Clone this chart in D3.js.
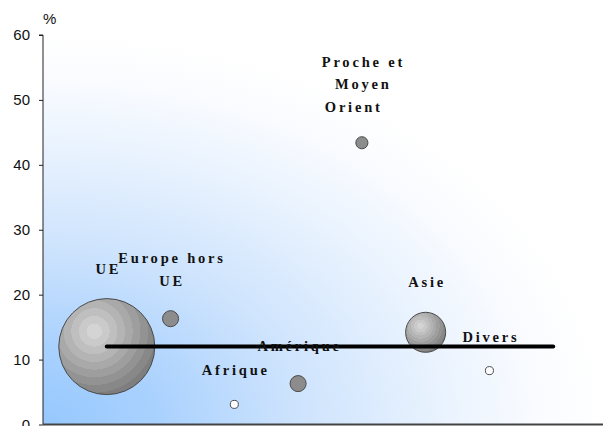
<!DOCTYPE html>
<html><head><meta charset="utf-8">
<script src="https://cdnjs.cloudflare.com/ajax/libs/d3/7.8.5/d3.min.js"></script>
<style>
body{margin:0;background:#fff;}
svg{display:block;}
.lbl{font-family:'Liberation Serif','DejaVu Serif',serif;font-weight:700;font-size:14.5px;letter-spacing:2.8px;fill:#111;white-space:pre;}
</style></head>
<body>
<svg id="chart" width="603" height="426"></svg>
<script>
// Data
const categories = ["UE", "Europe hors UE", "Afrique", "Amérique", "Proche et Moyen Orient", "Asie", "Divers"];
const labelLines = [["UE"], ["Europe hors", "UE"], ["Afrique"], ["Amérique"], ["Proche et", "Moyen", "Orient\u00a0\u00a0\u00a0"], ["Asie"], ["Divers"]];
const xIndex = [1, 2, 3, 4, 5, 6, 7];
const yValues = [12.0, 16.3, 3.1, 6.3, 43.4, 14.2, 8.3];
const bubbleSizes = [100, 2.8, 0.7, 2.8, 1.6, 17.4, 0.7];
const averageLine = {x0: 1, x1: 8, y: 12};
const yTicks = [0, 10, 20, 30, 40, 50, 60];

const svg = d3.select("#chart");
const L = 43, R = 603, T = 35, B = 424.5;
const x = d3.scaleLinear().domain([0, 8]).range([L, 553.2]);
const y = d3.scaleLinear().domain([0, 60]).range([B, T]);
const r = d3.scaleSqrt().domain([0, 100]).range([0, 48]);

const defs = svg.append("defs");
const bg = defs.append("radialGradient").attr("id", "bg")
  .attr("cx", "0").attr("cy", "1").attr("fx", "0").attr("fy", "1").attr("r", "1.0");
[[0, "#96c8fe"], [0.2, "#a9d1fe"], [0.45, "#cde3fd"], [0.7, "#e8f2fe"], [0.88, "#f9fbff"], [1, "#ffffff"]]
  .forEach(s => bg.append("stop").attr("offset", s[0]).attr("stop-color", s[1]));

const rg = defs.append("radialGradient").attr("id", "ball")
  .attr("cx", "0.37").attr("cy", "0.34").attr("r", "0.72").attr("fx", "0.37").attr("fy", "0.34");
const bands = ["#d4d4d4", "#cacaca", "#bfbfbf", "#b4b4b4", "#a9a9a9", "#9e9e9e", "#939393", "#888888", "#7e7e7e"];
bands.forEach((c, i) => {
  rg.append("stop").attr("offset", i / bands.length).attr("stop-color", c);
  rg.append("stop").attr("offset", (i + 1) / bands.length - 0.001).attr("stop-color", c);
});

svg.append("rect").attr("x", L).attr("y", T).attr("width", R - L).attr("height", B - T).attr("fill", "url(#bg)");

// y axis
const yAxis = d3.axisLeft(y).tickValues(yTicks).tickSize(4).tickPadding(9);
const gy = svg.append("g").attr("transform", `translate(${L},0)`).call(yAxis);
gy.select(".domain").attr("stroke", "#222").attr("d", `M-4,${T}H0V${B}`);
gy.selectAll(".tick line").attr("stroke", "#222");
gy.selectAll(".tick text").attr("font-family", "Liberation Sans, Arial, sans-serif").attr("font-size", 15).attr("fill", "#111");

// x axis line
svg.append("line").attr("x1", L).attr("x2", R).attr("y1", B).attr("y2", B).attr("stroke", "#444").attr("stroke-width", 2);

svg.append("text").attr("x", 43).attr("y", 24).attr("font-family", "Liberation Sans, Arial, sans-serif").attr("font-size", 15).attr("fill", "#111").text("%");

const data = categories.map((c, i) => ({c, lines: labelLines[i], xi: xIndex[i], v: yValues[i], s: bubbleSizes[i]}));

// bubbles
const g = svg.append("g");
data.forEach(d => {
  const rr = r(d.s);
  const fill = rr > 15 ? "url(#ball)" : (rr > 5 ? "#8c8c8c" : "#ffffff");
  g.append("circle").attr("cx", x(d.xi)).attr("cy", y(d.v)).attr("r", rr)
    .attr("fill", fill).attr("stroke", "#4a4a4a").attr("stroke-width", 1);
});

// average line
svg.append("line").attr("x1", x(averageLine.x0)).attr("x2", x(averageLine.x1))
  .attr("y1", y(averageLine.y)).attr("y2", y(averageLine.y))
  .attr("stroke", "#000").attr("stroke-width", 4).attr("stroke-linecap", "round");

// labels
data.forEach(d => {
  const top = y(d.v) - r(d.s);
  const n = d.lines.length;
  d.lines.forEach((ln, j) => {
    svg.append("text").attr("class", "lbl")
      .attr("x", x(d.xi) + 1.5).attr("text-anchor", "middle")
      .attr("y", top - 25 - (n - 1 - j) * 22.5)
      .text(ln);
  });
});
</script>
</body></html>
